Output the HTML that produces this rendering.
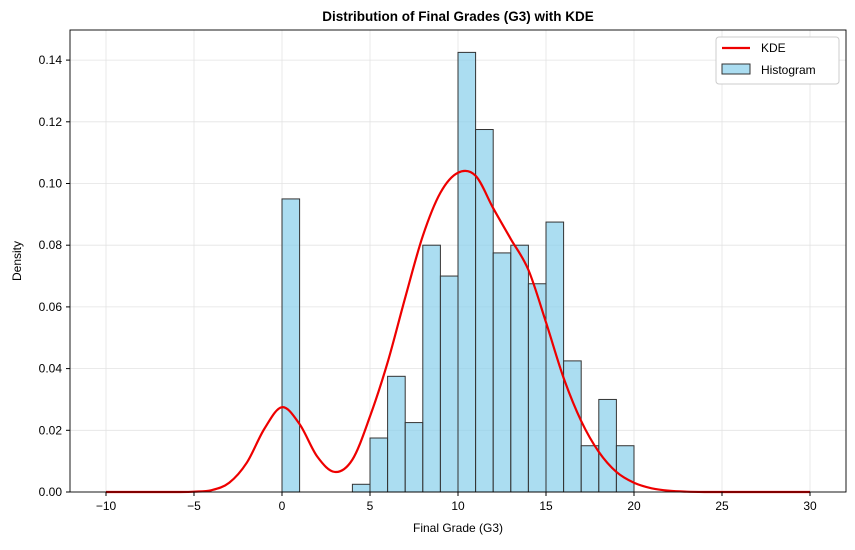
<!DOCTYPE html>
<html><head><meta charset="utf-8"><style>
body{margin:0;background:#fff;font-family:"Liberation Sans","DejaVu Sans",sans-serif}
svg text{font-family:"Liberation Sans","DejaVu Sans",sans-serif}
</style></head><body>
<svg id="chart" width="855" height="545" viewBox="0 0 855 545" xmlns="http://www.w3.org/2000/svg">
<text x="458" y="21" text-anchor="middle" font-size="13.5" font-weight="bold">Distribution of Final Grades (G3) with KDE</text>
<g id="grid"></g>
<g id="bars"></g>
<path id="kde" fill="none" stroke="#ee0000" stroke-width="2.2"></path>
<rect x="70" y="30" width="776" height="462" fill="none" stroke="#000" stroke-width="0.9"/>
<g id="axes"></g>
<text x="458" y="532" text-anchor="middle" font-size="12">Final Grade (G3)</text>
<text transform="translate(21,261) rotate(-90)" text-anchor="middle" font-size="12">Density</text>
<g>
<rect x="716" y="37" width="123" height="47" rx="3" fill="#fff" stroke="#ccc"/>
<line x1="722" y1="48" x2="750" y2="48" stroke="#ee0000" stroke-width="2.2"/>
<text x="761" y="52" font-size="12">KDE</text>
<rect x="722" y="64" width="28" height="10" fill="#87ceeb" fill-opacity="0.7" stroke="#333"/>
<text x="761" y="74" font-size="12">Histogram</text>
</g>
</svg>
<script>
const binStarts=[0,1,2,3,4,5,6,7,8,9,10,11,12,13,14,15,16,17,18,19];
const binDensity=[0.095,0,0,0,0.0025,0.0175,0.0375,0.0225,0.08,0.07,0.1425,0.1175,0.0775,0.08,0.0675,0.0875,0.0425,0.015,0.03,0.015];
const kdeX=[-10,-9,-8,-7,-6,-5,-4,-3,-2,-1,0,1,2,3,4,5,6,7,8,9,10,11,12,13,14,15,16,17,18,19,20,21,22,23,24,25,26,27,28,29,30];
const kdeY=[0,0,0,0,0,0.0001,0.0006,0.003,0.0095,0.0205,0.0275,0.022,0.0115,0.0065,0.0105,0.0245,0.042,0.063,0.083,0.097,0.1035,0.1025,0.092,0.082,0.072,0.055,0.037,0.023,0.013,0.0065,0.003,0.0012,0.0004,0.0001,0,0,0,0,0,0,0];
const xTicks=[-10,-5,0,5,10,15,20,25,30];
const yTicks=[0,0.02,0.04,0.06,0.08,0.10,0.12,0.14];
const yTickLabels=["0.00","0.02","0.04","0.06","0.08","0.10","0.12","0.14"];
const NS="http://www.w3.org/2000/svg";
const sx=v=>106+(v+10)*17.6;
const sy=v=>492-v*3085;
const grid=document.getElementById('grid'),axes=document.getElementById('axes'),bars=document.getElementById('bars');
function mk(t,a,p){const e=document.createElementNS(NS,t);for(const k in a)e.setAttribute(k,a[k]);p.appendChild(e);return e;}
xTicks.forEach(t=>{
 const g=mk('line',{x1:sx(t),x2:sx(t),y1:30,y2:492,stroke:'#e3e3e3','stroke-width':0.8},grid);
 
 
 const tk=mk('line',{x1:sx(t),x2:sx(t),y1:492,y2:496,stroke:'#000'},axes);
 
 
 const tx=mk('text',{x:sx(t),y:510,'text-anchor':'middle','font-size':12},axes);
 tx.textContent=t<0?'\u2212'+(-t):t;
 
 
});
yTicks.forEach((t,i)=>{
 const g=mk('line',{x1:70,x2:846,y1:sy(t),y2:sy(t),stroke:'#e3e3e3','stroke-width':0.8},grid);
 
 
 const tk=mk('line',{x1:66,x2:70,y1:sy(t),y2:sy(t),stroke:'#000'},axes);
 
 
 const tx=mk('text',{x:62,y:sy(t)+4,'text-anchor':'end','font-size':12},axes);
 tx.textContent=yTickLabels[i];
 
 
});
binStarts.forEach((b,i)=>{
 if(binDensity[i]<=0)return;
 const r=mk('rect',{x:sx(b),y:sy(binDensity[i]),width:sx(b+1)-sx(b),height:sy(0)-sy(binDensity[i]),fill:'#87ceeb','fill-opacity':0.7,stroke:'#333','stroke-width':1},bars);
 
 
});
// Catmull-Rom smooth path
const P=kdeX.map((x,i)=>[sx(x),sy(kdeY[i])]);
let d='M'+P[0][0]+','+P[0][1];
for(let i=0;i<P.length-1;i++){
 const p0=P[Math.max(0,i-1)],p1=P[i],p2=P[i+1],p3=P[Math.min(P.length-1,i+2)];
 const c1=[p1[0]+(p2[0]-p0[0])/6,p1[1]+(p2[1]-p0[1])/6];
 const c2=[p2[0]-(p3[0]-p1[0])/6,p2[1]-(p3[1]-p1[1])/6];
 d+=` C${c1[0]},${c1[1]} ${c2[0]},${c2[1]} ${p2[0]},${p2[1]}`;
}
document.getElementById('kde').setAttribute('d',d);
</script>
</body></html>
